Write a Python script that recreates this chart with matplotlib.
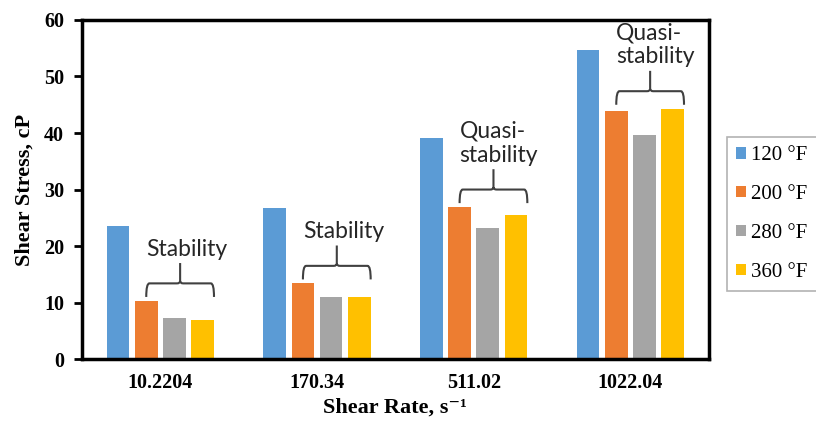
import numpy as np
import matplotlib.pyplot as plt
from matplotlib.path import Path
from matplotlib.patches import PathPatch

# Data
shear_rates = ['10.2204', '170.34', '511.02', '1022.04']
temps = ['120 °F', '200 °F', '280 °F', '360 °F']
stress_120 = [23.6, 26.7, 39.1, 54.7]
stress_200 = [10.3, 13.4, 26.9, 43.9]
stress_280 = [7.2, 11.0, 23.2, 39.6]
stress_360 = [6.9, 11.0, 25.5, 44.3]
notes = ['Stability', 'Stability', 'Quasi-\nstability', 'Quasi-\nstability']

colors = ['#5B9BD5', '#ED7D31', '#A5A5A5', '#FFC000']
serif = ['Liberation Serif', 'DejaVu Serif']


def draw_brace(ax, x0, x1, b, h, s, rx=0.02, ry=0.4):
    xm = (x0 + x1) / 2
    verts = [(x0, b), (x0, h), (x0 + rx, h), (xm - rx, h), (xm, h), (xm, h + ry), (xm, s),
             (xm, h + ry), (xm, h), (xm + rx, h), (x1 - rx, h), (x1, h), (x1, b)]
    codes = [Path.MOVETO, Path.CURVE3, Path.CURVE3, Path.LINETO, Path.CURVE3, Path.CURVE3, Path.LINETO,
             Path.MOVETO, Path.CURVE3, Path.CURVE3, Path.LINETO, Path.CURVE3, Path.CURVE3]
    ax.add_patch(PathPatch(Path(verts, codes), fill=False, edgecolor='#404040', lw=1.5))


fig = plt.figure(figsize=(8.16, 4.25), dpi=100)
ax = fig.add_axes([0.1005, 0.155, 0.768, 0.798])

x = np.arange(len(shear_rates))
series = [stress_120, stress_200, stress_280, stress_360]
step, width = 0.18, 0.145
for j, vals in enumerate(series):
    ax.bar(x + (j - 1.5) * step, vals, width, color=colors[j], label=temps[j])

# brackets over the 200-360 °F bars
for i in range(len(shear_rates)):
    top = max(stress_200[i], stress_280[i], stress_360[i])
    x0 = i - 0.5 * step
    x1 = i + 1.5 * step + width / 2
    b = top + 0.7
    h = b + 2.4
    s = h + 3.6
    draw_brace(ax, x0, x1, b, h, s)
    ax.text(x0, s + 1.3, notes[i], ha='left', va='baseline', fontsize=16.5,
            family=['Lato', 'DejaVu Sans'], color='#262626', linespacing=1.2)

ax.set_xlim(-0.5, 3.5)
ax.set_ylim(0, 60)
ax.set_yticks(range(0, 61, 10))
ax.set_xticks(x)
ax.set_xticklabels(shear_rates)
for sp in ax.spines.values():
    sp.set_linewidth(2.5)
ax.tick_params(axis='y', direction='out', length=6, width=2, pad=7)
ax.tick_params(axis='x', length=0, pad=10)
for lab in ax.get_xticklabels() + ax.get_yticklabels():
    lab.set_family(serif)
    lab.set_fontweight('bold')
    lab.set_fontsize(14.5)

ax.set_xlabel('Shear Rate, s⁻¹', family=serif, fontweight='bold', fontsize=16, labelpad=3)
ax.set_ylabel('Shear Stress, cP', family=serif, fontweight='bold', fontsize=16, labelpad=7)

leg = fig.legend(loc='upper left', bbox_to_anchor=(727 / 816, 1 - 137 / 425),
                 prop={'family': serif, 'size': 15}, frameon=True, fancybox=False,
                 handlelength=0.45, handleheight=0.45, handletextpad=0.25, labelspacing=0.95,
                 borderpad=0.45, borderaxespad=0, edgecolor='#A0A0A0')
leg.get_frame().set_linewidth(1.2)

plt.savefig('out.png', dpi=100)
